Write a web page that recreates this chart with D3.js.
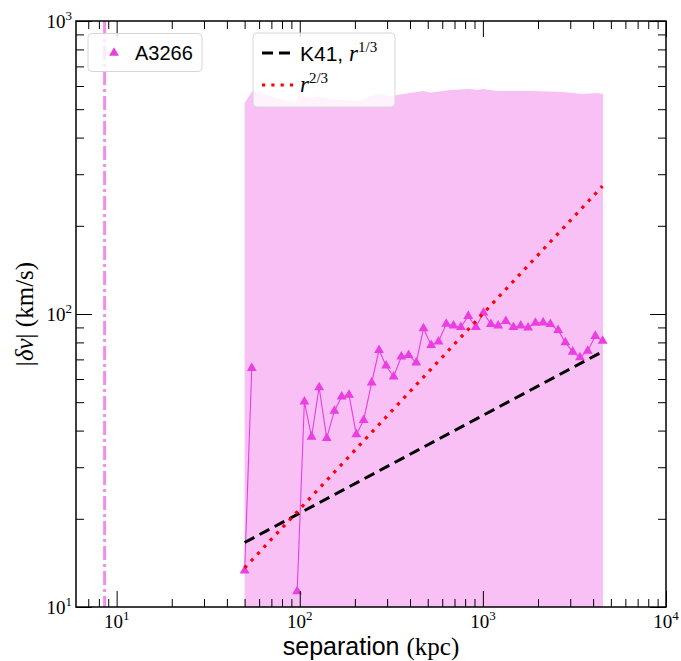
<!DOCTYPE html>
<html>
<head>
<meta charset="utf-8">
<script src="https://cdn.jsdelivr.net/npm/d3@7"></script>
<style>
body{margin:0;background:#fff;}
svg{display:block;}
</style>
</head>
<body>
<svg id="chart" width="681" height="661"></svg>
<script>
// ---------- data ----------
var sepKpc = [50, 54.7, 75, 96.8, 106, 116, 127.6, 140.4, 154.6, 169.4, 185.8, 203.7, 223.3, 247, 271, 296, 325.5, 358.5, 393, 432.6, 474, 522, 572.5, 631, 691.5, 758, 832, 916, 1007, 1106, 1212, 1334, 1468, 1610, 1766, 1936, 2133, 2338, 2576, 2820, 3093, 3390, 3736, 4111, 4508];
var dv = [13.3, 65.3, null, 11.3, 50.2, 38.1, 56.2, 37.7, 46.7, 52.2, 52.9, 38.8, 43.4, 58.3, 75.3, 66.6, 61.1, 71.5, 72.4, 68.2, 89.3, 78.3, 80.5, 92.5, 91.2, 90.1, 98.4, 90.1, 101, 92.3, 91.2, 94.6, 90.1, 91.2, 89.8, 93.3, 93.5, 92.3, 88.1, 80.0, 74.3, 71.1, 74.8, 84.1, 80.9];

// shaded band (upper edge)
var bandSep = [50, 55.2, 94.8, 98.4, 114.4, 125, 147, 206.5, 265, 312, 473, 516, 664, 853, 931, 1004, 1197, 1811, 2742, 3524, 4198, 4529];
var bandTop = [525, 577, 525, 559, 546, 552, 542, 533, 564, 555, 577, 569, 581, 586, 581, 586, 577, 577, 572, 563, 568, 563];

// reference power laws (end points)
var k41Sep = [50, 4500];
var k41Val = [16.6, 74.4];
var r23Sep = [50, 4500];
var r23Val = [13.6, 273];

var vlineSep = 8.6;

var xMajor = [10, 100, 1000, 10000];
var xMajorExp = ['1', '2', '3', '4'];
var yMajor = [10, 100, 1000];
var yMajorExp = ['1', '2', '3'];

// ---------- layout ----------
var L = 76, R = 666, T = 21, B = 607;
var magenta = '#ea3ee1';
var serif = '"Liberation Serif", "DejaVu Serif", serif';
var sans = '"Liberation Sans", "DejaVu Sans", sans-serif';

var svg = d3.select('#chart');

var x = d3.scaleLog().domain([6, 1e4]).range([L, R]);
var y = d3.scaleLog().domain([10, 1000]).range([B, T]);

svg.append('defs').append('clipPath').attr('id', 'clip')
	.append('rect').attr('x', L).attr('y', T).attr('width', R - L).attr('height', B - T);

var plot = svg.append('g').attr('clip-path', 'url(#clip)');

// band
var band = bandSep.map(function(d, i){ return {s: d, v: bandTop[i]}; });
plot.append('path')
	.datum(band)
	.attr('fill', '#f8c0f5')
	.attr('d', d3.area().x(function(d){ return x(d.s); }).y0(B + 5).y1(function(d){ return y(d.v); }));

// vertical dash-dot line
plot.append('line')
	.attr('x1', x(vlineSep)).attr('x2', x(vlineSep))
	.attr('y1', T).attr('y2', B)
	.attr('stroke', '#f28cee')
	.attr('stroke-width', 3)
	.attr('stroke-dasharray', '14,4,3,4');

// data line + markers
var pts = sepKpc.map(function(d, i){ return {s: d, v: dv[i]}; });
plot.append('path')
	.datum(pts)
	.attr('fill', 'none')
	.attr('stroke', magenta)
	.attr('stroke-width', 1.1)
	.attr('d', d3.line().defined(function(d){ return d.v != null; })
		.x(function(d){ return x(d.s); }).y(function(d){ return y(d.v); }));

var tri = d3.symbol().type(d3.symbolTriangle).size(42);
plot.selectAll('.mk')
	.data(pts.filter(function(d){ return d.v != null; }))
	.enter().append('path')
	.attr('class', 'mk')
	.attr('d', tri)
	.attr('fill', magenta)
	.attr('transform', function(d){ return 'translate(' + x(d.s) + ',' + y(d.v) + ')'; });

// power laws
var lineGen = d3.line().x(function(d){ return x(d.s); }).y(function(d){ return y(d.v); });
plot.append('path')
	.datum(k41Sep.map(function(d, i){ return {s: d, v: k41Val[i]}; }))
	.attr('fill', 'none').attr('stroke', '#000').attr('stroke-width', 3)
	.attr('stroke-dasharray', '11,6')
	.attr('d', lineGen);
plot.append('path')
	.datum(r23Sep.map(function(d, i){ return {s: d, v: r23Val[i]}; }))
	.attr('fill', 'none').attr('stroke', '#ff0000').attr('stroke-width', 3.2)
	.attr('stroke-dasharray', '3.2,6.1')
	.attr('d', lineGen);

// ---------- axes (inward ticks on all sides) ----------
function minorTicks(domain){
	var out = [];
	for (var e = 0; e <= 4; e++){
		for (var m = 2; m <= 9; m++){
			var v = m * Math.pow(10, e);
			if (v > domain[0] && v < domain[1]) out.push(v);
		}
	}
	return out;
}
var xMinor = minorTicks(x.domain());
var yMinor = minorTicks(y.domain());

function styleAxis(g){
	g.select('.domain').remove();
	g.selectAll('.tick line').attr('stroke', '#000').attr('stroke-width', 1);
}

svg.append('g').attr('transform', 'translate(0,' + B + ')')
	.call(d3.axisBottom(x).tickValues(xMajor).tickSize(-16).tickFormat('')).call(styleAxis);
svg.append('g').attr('transform', 'translate(0,' + B + ')')
	.call(d3.axisBottom(x).tickValues(xMinor).tickSize(-8).tickFormat('')).call(styleAxis);
svg.append('g').attr('transform', 'translate(0,' + T + ')')
	.call(d3.axisTop(x).tickValues(xMajor).tickSize(-16).tickFormat('')).call(styleAxis);
svg.append('g').attr('transform', 'translate(0,' + T + ')')
	.call(d3.axisTop(x).tickValues(xMinor).tickSize(-8).tickFormat('')).call(styleAxis);
svg.append('g').attr('transform', 'translate(' + L + ',0)')
	.call(d3.axisLeft(y).tickValues(yMajor).tickSize(-16).tickFormat('')).call(styleAxis);
svg.append('g').attr('transform', 'translate(' + L + ',0)')
	.call(d3.axisLeft(y).tickValues(yMinor).tickSize(-8).tickFormat('')).call(styleAxis);
svg.append('g').attr('transform', 'translate(' + R + ',0)')
	.call(d3.axisRight(y).tickValues(yMajor).tickSize(-16).tickFormat('')).call(styleAxis);
svg.append('g').attr('transform', 'translate(' + R + ',0)')
	.call(d3.axisRight(y).tickValues(yMinor).tickSize(-8).tickFormat('')).call(styleAxis);

svg.append('rect')
	.attr('x', L).attr('y', T).attr('width', R - L).attr('height', B - T)
	.attr('fill', 'none').attr('stroke', '#000').attr('stroke-width', 1.5);

// tick labels
xMajor.forEach(function(v, i){
	var t = svg.append('text')
		.attr('x', x(v)).attr('y', B + 21)
		.attr('text-anchor', 'middle')
		.style('font-family', serif).style('font-size', '19px');
	t.append('tspan').text('10');
	t.append('tspan').attr('dy', -8).style('font-size', '13px').text(xMajorExp[i]);
});
yMajor.forEach(function(v, i){
	var t = svg.append('text')
		.attr('x', L - 4).attr('y', y(v) + 7)
		.attr('text-anchor', 'end')
		.style('font-family', serif).style('font-size', '19px');
	t.append('tspan').text('10');
	t.append('tspan').attr('dy', -8).style('font-size', '13px').text(yMajorExp[i]);
});

// axis labels
var xl = svg.append('text')
	.attr('x', (L + R) / 2).attr('y', 655)
	.attr('text-anchor', 'middle')
	.style('font-size', '25px');
xl.append('tspan').style('font-family', sans).text('separation ');
xl.append('tspan').style('font-family', serif).text('(kpc)');

var yl = svg.append('text')
	.attr('transform', 'translate(33,' + ((T + B) / 2) + ') rotate(-90)')
	.attr('text-anchor', 'middle')
	.style('font-family', serif).style('font-size', '25px');
yl.append('tspan').text('|');
yl.append('tspan').style('font-style', 'italic').text('δv');
yl.append('tspan').text('| (km/s)');

// ---------- legends ----------
var leg1 = svg.append('g');
leg1.append('rect')
	.attr('x', 88).attr('y', 33.5).attr('width', 114).attr('height', 38).attr('rx', 4)
	.attr('fill', 'rgba(255,255,255,0.8)').attr('stroke', '#d6d6d6').attr('stroke-width', 1);
leg1.append('path').attr('d', tri).attr('fill', magenta).attr('transform', 'translate(114,53)');
leg1.append('text').attr('x', 135).attr('y', 60)
	.style('font-family', sans).style('font-size', '20px').text('A3266');

var leg2 = svg.append('g');
leg2.append('rect')
	.attr('x', 253).attr('y', 33).attr('width', 142).attr('height', 74).attr('rx', 4)
	.attr('fill', 'rgba(255,255,255,0.8)').attr('stroke', '#d6d6d6').attr('stroke-width', 1);
leg2.append('line').attr('x1', 262).attr('x2', 294).attr('y1', 53).attr('y2', 53)
	.attr('stroke', '#000').attr('stroke-width', 3).attr('stroke-dasharray', '11,6');
leg2.append('line').attr('x1', 262).attr('x2', 294).attr('y1', 85).attr('y2', 85)
	.attr('stroke', '#ff0000').attr('stroke-width', 3.2).attr('stroke-dasharray', '3.2,6.1');
var k = leg2.append('text').attr('x', 300).attr('y', 61);
k.append('tspan').style('font-family', sans).style('font-size', '21px').text('K41, ');
k.append('tspan').style('font-family', serif).style('font-style', 'italic').style('font-size', '23px').text('r');
k.append('tspan').attr('dy', -9).style('font-family', serif).style('font-size', '15px').text('1/3');
var r2 = leg2.append('text').attr('x', 300).attr('y', 92);
r2.append('tspan').style('font-family', serif).style('font-style', 'italic').style('font-size', '23px').text('r');
r2.append('tspan').attr('dy', -9).style('font-family', serif).style('font-size', '15px').text('2/3');
</script>
</body>
</html>
